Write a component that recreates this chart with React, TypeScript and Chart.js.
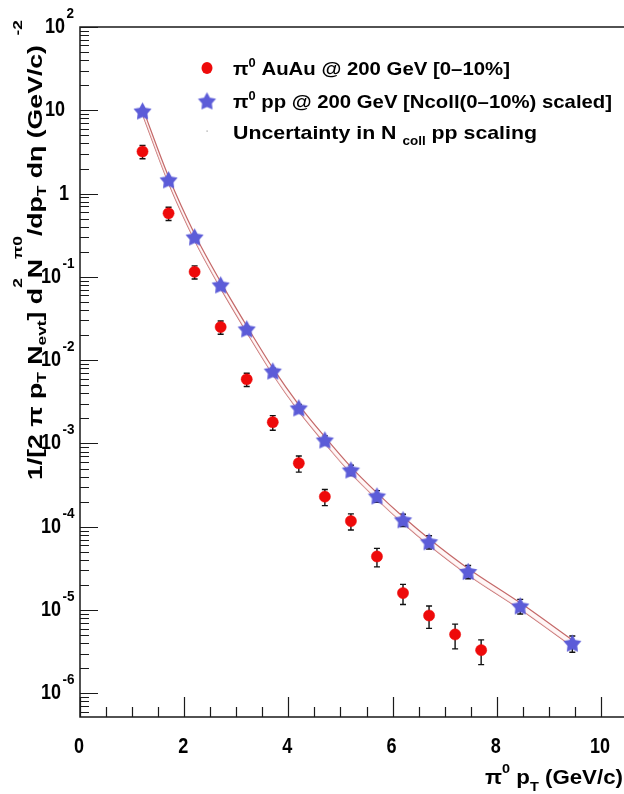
import React, { useEffect, useRef } from "react";
import { Chart, registerables } from "chart.js";

Chart.register(...registerables);

// ---------- data ----------
const auauPt = [1.2, 1.7, 2.2, 2.7, 3.2, 3.7, 4.2, 4.7, 5.2, 5.7, 6.2, 6.7, 7.2, 7.7];
const auauYield = [3.2, 0.58, 0.115, 0.025, 0.0059, 0.0018, 5.8e-4, 2.3e-4, 1.17e-4, 4.4e-5, 1.6e-5, 8.6e-6, 5.1e-6, 3.3e-6];
const auauRelErr = [0.18, 0.18, 0.18, 0.18, 0.18, 0.2, 0.22, 0.22, 0.22, 0.25, 0.27, 0.3, 0.33, 0.33];

const ppPt = [1.2, 1.7, 2.2, 2.7, 3.2, 3.7, 4.2, 4.7, 5.2, 5.7, 6.2, 6.7, 7.45, 8.45, 9.45];
const ppYield = [9.8, 1.46, 0.301, 0.08, 0.0237, 0.0074, 0.00267, 0.0011, 4.8e-4, 2.34e-4, 1.21e-4, 6.6e-5, 2.9e-5, 1.12e-5, 4.0e-6];
const ppRelErr = [0.05, 0.05, 0.05, 0.06, 0.07, 0.08, 0.1, 0.12, 0.14, 0.16, 0.17, 0.18, 0.18, 0.2, 0.22];

// Ncoll scaling uncertainty (relative) shown as the two thin lines
const ncollRelUnc = 0.09;

const xMin = 0;
const xMax = 10.25;
const yMin = 5.2e-7;
const yMax = 100;

const xLabelValues = [0, 2, 4, 6, 8, 10];
const yLabelValues = [1e2, 1e1, 1, 1e-1, 1e-2, 1e-3, 1e-4, 1e-5, 1e-6];
const yLabelMantissa = ["10", "10", "1", "10", "10", "10", "10", "10", "10"];
const yLabelExponent = ["2", "", "", "-1", "-2", "-3", "-4", "-5", "-6"];

const legendAuAu = "AuAu @ 200 GeV [0\u201310%]";
const legendPP = "pp @ 200 GeV [Ncoll(0\u201310%) scaled]";
const legendUncA = "Uncertainty in N ";
const legendUncSub = "coll";
const legendUncB = " pp scaling";

type Seg = { t: string; k: "n" | "sup" | "sub" };
interface RichOpts {
  size: number;
  small: number;
  supDy: number;
  subDy: number;
  sx?: number;
  fit?: number;
  align?: "left" | "right" | "center";
  color?: string;
}

const fontOf = (px: number) => `bold ${px}px "Liberation Sans", Arial, sans-serif`;

function rich(ctx: CanvasRenderingContext2D, segs: Seg[], x: number, baseline: number, o: RichOpts) {
  ctx.save();
  const ws = segs.map((s) => {
    ctx.font = fontOf(s.k === "n" ? o.size : o.small);
    return ctx.measureText(s.t).width;
  });
  const total = ws.reduce((a, b) => a + b, 0);
  const sx = o.fit ? o.fit / total : o.sx ?? 1;
  const W = total * sx;
  const x0 = o.align === "right" ? x - W : o.align === "center" ? x - W / 2 : x;
  ctx.translate(x0, baseline);
  ctx.scale(sx, 1);
  ctx.fillStyle = o.color ?? "#000";
  ctx.textBaseline = "alphabetic";
  ctx.textAlign = "left";
  let cx = 0;
  segs.forEach((s, i) => {
    ctx.font = fontOf(s.k === "n" ? o.size : o.small);
    const dy = s.k === "sup" ? o.supDy : s.k === "sub" ? o.subDy : 0;
    ctx.fillText(s.t, cx, dy);
    cx += ws[i];
  });
  ctx.restore();
  return W;
}

function makeStar(r: number, color: string): HTMLCanvasElement {
  const c = document.createElement("canvas");
  const s = Math.ceil(r * 2 + 2);
  c.width = s;
  c.height = s;
  const g = c.getContext("2d")!;
  g.translate(s / 2, s / 2 + 0.8);
  g.beginPath();
  for (let i = 0; i < 10; i++) {
    const a = -Math.PI / 2 + (i * Math.PI) / 5;
    const rad = i % 2 ? r * 0.54 : r;
    const px = Math.cos(a) * rad;
    const py = Math.sin(a) * rad;
    if (i === 0) g.moveTo(px, py);
    else g.lineTo(px, py);
  }
  g.closePath();
  g.fillStyle = color;
  g.fill();
  return c;
}

const STAR_COLOR = "#5c5cd8";
const DOT_COLOR = "#ee0a0a";
const BAND_COLOR = "#c46868";

export default function App() {
  const ref = useRef<HTMLCanvasElement | null>(null);

  useEffect(() => {
    const canvas = ref.current;
    if (!canvas) return;
    const star = makeStar(9.5, STAR_COLOR);

    const errPlugin = {
      id: "errBars",
      beforeDatasetsDraw(chart: any) {
        const ctx: CanvasRenderingContext2D = chart.ctx;
        const xs = chart.scales.x;
        const ys = chart.scales.y;
        ctx.save();
        ctx.strokeStyle = "#111";
        ctx.lineWidth = 1.4;
        const drawSet = (pts: number[], vals: number[], errs: number[]) => {
          pts.forEach((p, i) => {
            const x = xs.getPixelForValue(p);
            const yh = ys.getPixelForValue(vals[i] * (1 + errs[i]));
            const yl = ys.getPixelForValue(vals[i] * (1 - errs[i]));
            ctx.beginPath();
            ctx.moveTo(x, yh);
            ctx.lineTo(x, yl);
            ctx.moveTo(x - 3, yh);
            ctx.lineTo(x + 3, yh);
            ctx.moveTo(x - 3, yl);
            ctx.lineTo(x + 3, yl);
            ctx.stroke();
          });
        };
        drawSet(auauPt, auauYield, auauRelErr);
        drawSet(ppPt, ppYield, ppRelErr);
        ctx.restore();
      },
    };

    const framePlugin = {
      id: "rootFrame",
      afterDraw(chart: any) {
        const ctx: CanvasRenderingContext2D = chart.ctx;
        const xs = chart.scales.x;
        const ys = chart.scales.y;
        const a = chart.chartArea;
        ctx.save();
        ctx.strokeStyle = "#1a1a1a";
        ctx.lineWidth = 1.5;
        // frame
        ctx.beginPath();
        ctx.moveTo(624, a.top);
        ctx.lineTo(a.left, a.top);
        ctx.lineTo(a.left, a.bottom);
        ctx.lineTo(624, a.bottom);
        ctx.stroke();
        // y ticks (inside)
        ctx.lineWidth = 1.2;
        ctx.beginPath();
        for (let d = -7; d <= 2; d++) {
          for (let m = 1; m <= 9; m++) {
            const v = m * Math.pow(10, d);
            if (v < yMin || v > yMax * 1.0001) continue;
            const y = Math.round(ys.getPixelForValue(v)) + 0.5;
            const len = m === 1 ? 18 : 9;
            ctx.moveTo(a.left, y);
            ctx.lineTo(a.left + len, y);
          }
        }
        // x ticks (inside)
        for (let i = 0; xMin + i * 0.5 <= xMax; i++) {
          const v = xMin + i * 0.5;
          const x = Math.round(xs.getPixelForValue(v)) + 0.5;
          const len = i % 4 === 0 ? 20 : 10;
          ctx.moveTo(x, a.bottom);
          ctx.lineTo(x, a.bottom - len);
        }
        ctx.stroke();

        // x tick labels
        xLabelValues.forEach((v) => {
          const x = xs.getPixelForValue(v);
          rich(ctx, [{ t: String(v), k: "n" }], x - 1, 753, {
            size: 22, small: 14, supDy: 0, subDy: 0, sx: 0.82, align: "center",
          });
        });
        // y tick labels
        yLabelValues.forEach((v, i) => {
          const y = ys.getPixelForValue(v);
          const base = y - 2 + 8;
          const man = yLabelMantissa[i];
          const exp = yLabelExponent[i];
          const right = man === "1" ? 69 : exp.startsWith("-") ? 61 : 65;
          rich(ctx, [{ t: man, k: "n" }], right, base, {
            size: 22, small: 14, supDy: 0, subDy: 0, sx: 0.82, align: "right",
          });
          if (exp) {
            rich(ctx, [{ t: exp, k: "n" }], right + 1.5, base - 15, {
              size: 15, small: 10, supDy: 0, subDy: 0, sx: 0.9, align: "left",
            });
          }
        });

        // x-axis title
        rich(
          ctx,
          [
            { t: "\u03c0", k: "n" },
            { t: "0", k: "sup" },
            { t: " p", k: "n" },
            { t: "T", k: "sub" },
            { t: " (GeV/c)", k: "n" },
          ],
          485, 784,
          { size: 20, small: 13, supDy: -11, subDy: 7, fit: 138, align: "left" }
        );

        // y-axis title (rotated)
        ctx.save();
        ctx.translate(42, 480);
        ctx.rotate(-Math.PI / 2);
        rich(
          ctx,
          [
            { t: "1/[2 \u03c0 p", k: "n" },
            { t: "T", k: "sub" },
            { t: " N", k: "n" },
            { t: "evt", k: "sub" },
            { t: "] d", k: "n" },
            { t: "2", k: "sup" },
            { t: "N", k: "n" },
            { t: "\u03c00", k: "sup" },
            { t: "/dp", k: "n" },
            { t: "T", k: "sub" },
            { t: " d\u03b7 (GeV/c)", k: "n" },
            { t: "  -2", k: "sup" },
          ],
          0, 0,
          { size: 20, small: 13, supDy: -20, subDy: 4, fit: 460, align: "left" }
        );
        ctx.restore();

        // legend
        ctx.fillStyle = DOT_COLOR;
        ctx.beginPath();
        ctx.ellipse(207, 68, 5.5, 6, 0, 0, Math.PI * 2);
        ctx.fill();
        ctx.drawImage(star, 207 - star.width / 2, 101 - star.height / 2);
        ctx.fillStyle = "#999";
        ctx.fillRect(206.5, 130.5, 1.2, 1.2);

        rich(ctx, [{ t: "\u03c0", k: "n" }, { t: "0", k: "sup" }, { t: " " + legendAuAu, k: "n" }], 233, 75, {
          size: 19, small: 12, supDy: -8, subDy: 5, fit: 277, align: "left",
        });
        rich(ctx, [{ t: "\u03c0", k: "n" }, { t: "0", k: "sup" }, { t: " " + legendPP, k: "n" }], 233, 108, {
          size: 19, small: 12, supDy: -8, subDy: 5, fit: 379, align: "left",
        });
        rich(
          ctx,
          [
            { t: legendUncA, k: "n" },
            { t: legendUncSub, k: "sub" },
            { t: legendUncB, k: "n" },
          ],
          233, 139,
          { size: 19, small: 12, supDy: -8, subDy: 6, fit: 304, align: "left" }
        );
        ctx.restore();
      },
    };

    const toXY = (xs: number[], ys: number[]) => xs.map((x, i) => ({ x, y: ys[i] }));

    const chart = new Chart(canvas, {
      type: "scatter",
      data: {
        datasets: [
          {
            type: "line",
            label: "band-high",
            data: toXY(ppPt, ppYield.map((v) => v * (1 + ncollRelUnc))),
            borderColor: BAND_COLOR,
            borderWidth: 1.2,
            pointRadius: 0,
            cubicInterpolationMode: "monotone",
            fill: "+1",
            backgroundColor: "rgba(255,240,240,0.6)",
            order: 3,
          } as any,
          {
            type: "line",
            label: "band-low",
            data: toXY(ppPt, ppYield.map((v) => v * (1 - ncollRelUnc))),
            borderColor: BAND_COLOR,
            borderWidth: 1.2,
            pointRadius: 0,
            cubicInterpolationMode: "monotone",
            fill: false,
            order: 3,
          } as any,
          {
            label: "pp",
            data: toXY(ppPt, ppYield),
            pointStyle: star,
            pointRadius: 9,
            showLine: false,
            order: 2,
          } as any,
          {
            label: "AuAu",
            data: toXY(auauPt, auauYield),
            pointStyle: "circle",
            pointRadius: 5.6,
            pointBackgroundColor: DOT_COLOR,
            pointBorderColor: DOT_COLOR,
            pointBorderWidth: 0.5,
            showLine: false,
            order: 1,
          } as any,
        ],
      },
      options: {
        animation: false,
        responsive: false,
        devicePixelRatio: 1,
        layout: { padding: { top: 27, right: 1, left: 0, bottom: 0 } },
        plugins: {
          legend: { display: false },
          tooltip: { enabled: false },
          title: { display: false },
        },
        scales: {
          x: {
            type: "linear",
            min: xMin,
            max: xMax,
            ticks: { display: false },
            grid: { display: false },
            border: { display: false },
            afterFit: (s: any) => {
              s.height = 77;
            },
          },
          y: {
            type: "logarithmic",
            min: yMin,
            max: yMax,
            ticks: { display: false },
            grid: { display: false },
            border: { display: false },
            afterFit: (s: any) => {
              s.width = 80;
            },
          },
        },
      } as any,
      plugins: [errPlugin, framePlugin],
    });

    return () => chart.destroy();
  }, []);

  return (
    <div style={{ position: "absolute", left: 0, top: 0, width: 624, height: 794, background: "#fff" }}>
      <canvas ref={ref} width={624} height={794} style={{ display: "block", width: 624, height: 794 }} />
    </div>
  );
}
